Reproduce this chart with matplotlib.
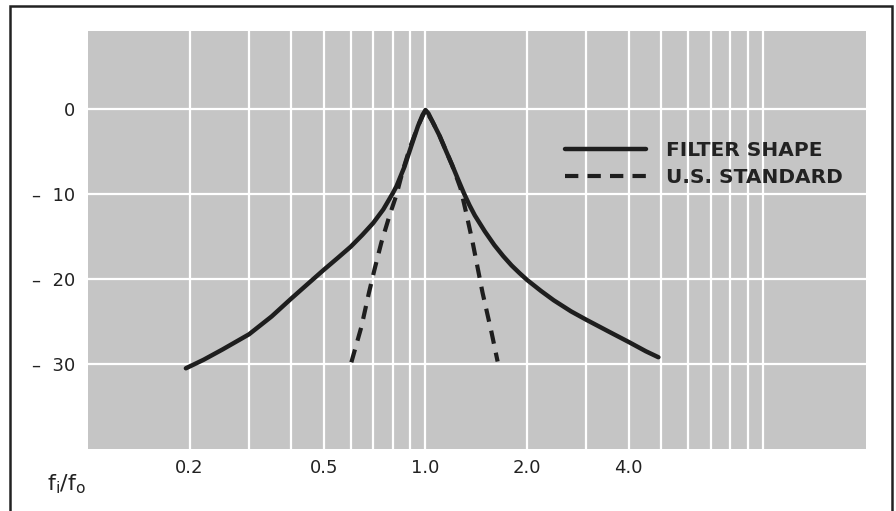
import matplotlib
matplotlib.use("Agg")
import matplotlib.pyplot as plt
from matplotlib.patches import Rectangle

# ---------------------------------------------------------
# data (x = fi/fo, y = dB)
# ---------------------------------------------------------
filter_x = [0.195, 0.22, 0.25, 0.3, 0.35, 0.4, 0.45, 0.5, 0.55, 0.6, 0.65, 0.7,
            0.75, 0.8, 0.82, 0.866, 0.91, 0.95, 0.98, 1.0, 1.02, 1.05, 1.1, 1.15,
            1.2, 1.25, 1.3, 1.35, 1.4, 1.5, 1.6, 1.7, 1.8, 1.9, 2.0, 2.2, 2.4,
            2.7, 3.0, 3.5, 4.0, 4.5, 4.9]
filter_y = [-30.5, -29.5, -28.3, -26.5, -24.4, -22.3, -20.5, -18.9, -17.5, -16.2,
            -14.8, -13.4, -11.8, -9.9, -9.1, -6.8, -4.2, -2.0, -0.7, -0.1, -0.5,
            -1.5, -3.1, -4.9, -6.6, -8.3, -9.9, -11.3, -12.5, -14.4, -16.0, -17.3,
            -18.4, -19.3, -20.1, -21.4, -22.5, -23.8, -24.8, -26.2, -27.4, -28.5,
            -29.2]

std_x = [0.603, 0.646, 0.68, 0.706, 0.74, 0.78, 0.82, 0.86, 0.9, 0.95, 1.0,
         1.05, 1.1, 1.2, 1.27, 1.32, 1.38, 1.476, 1.57, 1.636]
std_y = [-29.8, -25.6, -21.6, -18.9, -15.7, -12.7, -10.1, -7.0, -4.5, -2.0, -0.1,
         -1.5, -3.1, -6.6, -9.3, -12.2, -15.7, -21.6, -26.3, -29.7]

x_labels = [0.2, 0.5, 1.0, 2.0, 4.0]
x_grid = [0.2, 0.3, 0.4, 0.5, 0.6, 0.7, 0.8, 0.9, 1, 2, 3, 4, 5, 6, 7, 8, 9, 10]
y_ticks = [0, -10, -20, -30]
y_labels = ["0", "\u2013  10", "\u2013  20", "\u2013  30"]

# ---------------------------------------------------------
# figure
# ---------------------------------------------------------
fig = plt.figure(figsize=(8.96, 5.11), dpi=100, facecolor="white")
ax = fig.add_axes([88 / 896, 1 - 449 / 511, 778 / 896, 418 / 511])
ax.set_facecolor("#c5c5c5")

ax.set_xscale("log")
ax.set_xlim(0.1, 20.2)
ax.set_ylim(-40, 9.2)

ax.set_xticks(x_grid, minor=True)
ax.set_xticks(x_labels)
ax.set_xticklabels([f"{v:.1f}" for v in x_labels])
ax.xaxis.set_minor_formatter(plt.NullFormatter())
ax.set_yticks(y_ticks)
ax.set_yticklabels(y_labels)

ax.grid(True, which="both", axis="x", color="white", lw=1.6)
ax.grid(True, which="major", axis="y", color="white", lw=1.6)
ax.set_axisbelow(True)
ax.tick_params(which="both", length=0, labelsize=13, colors="#222222")
ax.tick_params(axis="x", pad=7)
ax.tick_params(axis="y", pad=9)
for s in ax.spines.values():
    s.set_visible(False)

ax.plot(filter_x, filter_y, color="#1e1e1e", lw=3.2, solid_capstyle="round",
        solid_joinstyle="round", label="FILTER SHAPE")
ax.plot(std_x, std_y, color="#1e1e1e", lw=3.0, dashes=(3.2, 2.2),
        label="U.S. STANDARD")

ax.legend(loc="upper left", bbox_to_anchor=(0.603, 0.757), frameon=False,
          handlelength=4.0, handletextpad=1.0, labelspacing=0.42,
          borderaxespad=0, prop={"size": 14.5, "weight": "bold"},
          labelcolor="#222222")

fig.text(47 / 896, 1 - 484 / 511, r"$\mathregular{f_i/f_o}$", fontsize=16,
         color="#222222", va="center", ha="left")

# outer frame of the scanned figure
fig.patches.append(Rectangle((10 / 896, -0.05), 882 / 896, 1.05 - 6 / 511,
                             transform=fig.transFigure, fill=False,
                             ec="#222222", lw=1.8))

fig.savefig("out.png", dpi=100, facecolor="white")
